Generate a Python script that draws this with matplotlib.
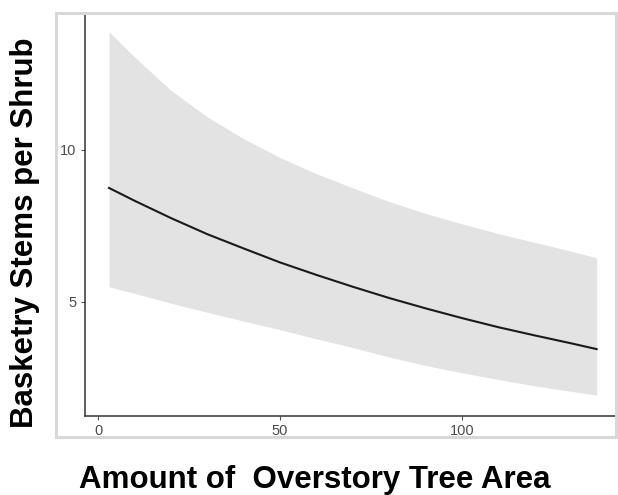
import matplotlib.pyplot as plt
from matplotlib.patches import Rectangle

plt.rcParams['font.family'] = ['Liberation Sans', 'DejaVu Sans']

# values
area = [3, 10, 20, 30, 40, 50, 60, 70, 80, 90, 100, 110, 120, 130, 137]
fit = [8.75, 8.33, 7.76, 7.23, 6.76, 6.30, 5.89, 5.50, 5.13, 4.79, 4.47, 4.17, 3.90, 3.64, 3.45]
upper = [13.89, 13.06, 11.96, 11.09, 10.37, 9.75, 9.22, 8.75, 8.30, 7.91, 7.57, 7.25, 6.96, 6.67, 6.45]
lower = [5.50, 5.28, 4.96, 4.66, 4.37, 4.09, 3.79, 3.50, 3.19, 2.91, 2.67, 2.45, 2.24, 2.06, 1.94]
xticks = [0, 50, 100]
yticks = [5, 10]

W, H = 618, 495
fig = plt.figure(figsize=(W / 100, H / 100), dpi=100)

# light grey frame around the panel
fig.patches.append(Rectangle((56 / W, 1 - 437 / H), (616 - 56) / W, (437 - 13) / H,
                             transform=fig.transFigure, fill=False,
                             edgecolor='#d8d8d8', linewidth=2.2, zorder=0))

ax = fig.add_axes([85 / W, 1 - 416 / H, (617 - 85) / W, (416 - 14) / H])
ax.fill_between(area, lower, upper, color='#e3e3e3', linewidth=0)
ax.plot(area, fit, color='#1a1a1a', linewidth=1.5)

ax.set_xlim(-3.6, 142.6)
ax.set_ylim(1.25, 14.47)
ax.set_xticks(xticks)
ax.set_yticks(yticks)
for s in ['top', 'right']:
    ax.spines[s].set_visible(False)
for s in ['left', 'bottom']:
    ax.spines[s].set_color('#333333')
    ax.spines[s].set_linewidth(1.1)
ax.tick_params(length=3, width=0.8, color='#555555', labelcolor='#4d4d4d',
               labelsize=10.5, pad=3)
ax.patch.set_alpha(0)

fig.text(0.041, 0.530, 'Basketry Stems per Shrub', rotation=90, ha='center',
         va='center', fontsize=22.5, fontweight='bold', color='black')
fig.text(0.509, 7 / H, 'Amount of  Overstory Tree Area', ha='center',
         va='baseline', fontsize=22.5, fontweight='bold', color='black')

fig.savefig('out.png', dpi=100)
